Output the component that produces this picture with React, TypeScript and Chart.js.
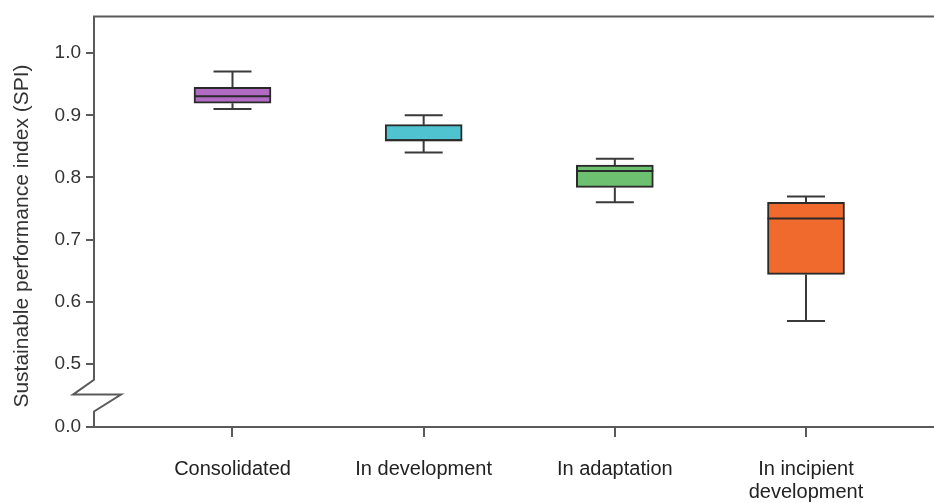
import React, { useEffect, useRef } from "react";
import { Chart, registerables } from "chart.js";

Chart.register(...registerables);

const categories: (string | string[])[] = [
  "Consolidated",
  "In development",
  "In adaptation",
  ["In incipient", "development"],
];
const whiskerLow = [0.91, 0.84, 0.76, 0.569];
const q1 = [0.9195, 0.859, 0.784, 0.644];
const median = [0.9307, 0.86, 0.8106, 0.734];
const q3 = [0.945, 0.885, 0.82, 0.76];
const whiskerHigh = [0.9707, 0.9, 0.83, 0.7695];
const boxColors = ["#b26bc2", "#4fc4d0", "#6cc070", "#ef6a2c"];

const yTickValues = [0.3985, 0.5, 0.6, 0.7, 0.8, 0.9, 1.0];
const yTickLabels = ["0.0", "0.5", "0.6", "0.7", "0.8", "0.9", "1.0"];
const yTitle = "Sustainable performance index (SPI)";

const FONT = '"Liberation Sans", Arial, sans-serif';
const AXIS = "#5a5a5a";

const boxPlugin = {
  id: "boxExtras",
  beforeDatasetsDraw(chart: any) {
    const { ctx, scales } = chart;
    const xs = scales.x;
    const ys = scales.y;
    ctx.save();
    ctx.strokeStyle = "#3a3a3a";
    ctx.lineWidth = 2;
    const capHalf = 19;
    categories.forEach((_, i) => {
      const cx = xs.getPixelForValue(i + 1);
      const yLo = ys.getPixelForValue(whiskerLow[i]);
      const yHi = ys.getPixelForValue(whiskerHigh[i]);
      const yQ1 = ys.getPixelForValue(q1[i]);
      const yQ3 = ys.getPixelForValue(q3[i]);
      ctx.beginPath();
      ctx.moveTo(cx, yHi);
      ctx.lineTo(cx, yQ3);
      ctx.moveTo(cx, yQ1);
      ctx.lineTo(cx, yLo);
      ctx.moveTo(cx - capHalf, yHi);
      ctx.lineTo(cx + capHalf, yHi);
      ctx.moveTo(cx - capHalf, yLo);
      ctx.lineTo(cx + capHalf, yLo);
      ctx.stroke();
    });
    ctx.restore();
  },
  afterDatasetsDraw(chart: any) {
    const { ctx, scales, chartArea } = chart;
    const xs = scales.x;
    const ys = scales.y;
    ctx.save();
    ctx.strokeStyle = "#2a2a2a";
    ctx.lineWidth = 2;
    const half = 38.5;
    categories.forEach((_, i) => {
      const cx = xs.getPixelForValue(i + 1);
      const ym = ys.getPixelForValue(median[i]);
      ctx.beginPath();
      ctx.moveTo(cx - half, ym);
      ctx.lineTo(cx + half, ym);
      ctx.stroke();
    });
    // frame: top line and broken left axis
    ctx.strokeStyle = AXIS;
    ctx.lineWidth = 2;
    const L = chartArea.left;
    const yA = ys.getPixelForValue(0.4745);
    const yB = ys.getPixelForValue(0.4506);
    const yC = ys.getPixelForValue(0.4235);
    ctx.beginPath();
    ctx.moveTo(chartArea.right, chartArea.top);
    ctx.lineTo(L, chartArea.top);
    ctx.lineTo(L, yA);
    ctx.lineTo(L - 21, yB);
    ctx.lineTo(L + 27, yB);
    ctx.lineTo(L, yC);
    ctx.lineTo(L, chartArea.bottom);
    ctx.stroke();
    // y title
    ctx.fillStyle = "#333";
    ctx.font = `21px ${FONT}`;
    ctx.textAlign = "center";
    ctx.textBaseline = "middle";
    ctx.translate(22, 236);
    ctx.rotate(-Math.PI / 2);
    ctx.fillText(yTitle, 0, 0);
    ctx.restore();
  },
};

export default function App() {
  const ref = useRef<HTMLCanvasElement | null>(null);
  useEffect(() => {
    if (!ref.current) return;
    const chart = new Chart(ref.current, {
      type: "bar",
      data: {
        datasets: [
          {
            data: categories.map((_, i) => ({ x: i + 1, y: [q1[i], q3[i]] })) as any,
            backgroundColor: boxColors,
            borderColor: "#2a2a2a",
            borderWidth: 2,
            borderSkipped: false,
            barThickness: 77,
          },
        ],
      },
      options: {
        animation: false,
        responsive: false,
        layout: { padding: { top: 14, left: 0, right: 0, bottom: 0 } },
        plugins: { legend: { display: false }, tooltip: { enabled: false } },
        scales: {
          x: {
            type: "linear",
            offset: false,
            min: 0.2755,
            max: 4.6696,
            afterFit(scale: any) {
              scale.height = 76;
            },
            afterBuildTicks(scale: any) {
              scale.ticks = categories.map((_, i) => ({ value: i + 1 }));
            },
            ticks: {
              autoSkip: false,
              maxRotation: 0,
              color: "#222",
              padding: 21,
              font: { family: FONT, size: 20, lineHeight: 1.15 },
              callback: (_v: any, i: number) => categories[i],
            },
            grid: {
              offset: false,
              drawOnChartArea: false,
              drawTicks: true,
              tickLength: 10,
              color: AXIS,
              lineWidth: 2,
            },
            border: { display: true, color: AXIS, width: 2 },
          },
          y: {
            type: "linear",
            min: 0.3985,
            max: 1.0592,
            afterFit(scale: any) {
              scale.width = 94;
            },
            afterBuildTicks(scale: any) {
              scale.ticks = yTickValues.map((v) => ({ value: v }));
            },
            ticks: {
              autoSkip: false,
              color: "#333",
              padding: 5,
              font: { family: FONT, size: 19 },
              callback: (_v: any, i: number) => yTickLabels[i],
            },
            grid: {
              drawOnChartArea: false,
              drawTicks: true,
              tickLength: 8,
              color: AXIS,
              lineWidth: 2,
            },
            border: { display: false },
          },
        },
      },
      plugins: [boxPlugin],
    } as any);
    return () => chart.destroy();
  }, []);
  return (
    <div style={{ position: "absolute", left: 0, top: 0, width: 934, height: 503, background: "#fff" }}>
      <canvas ref={ref} width={934} height={503} />
    </div>
  );
}
